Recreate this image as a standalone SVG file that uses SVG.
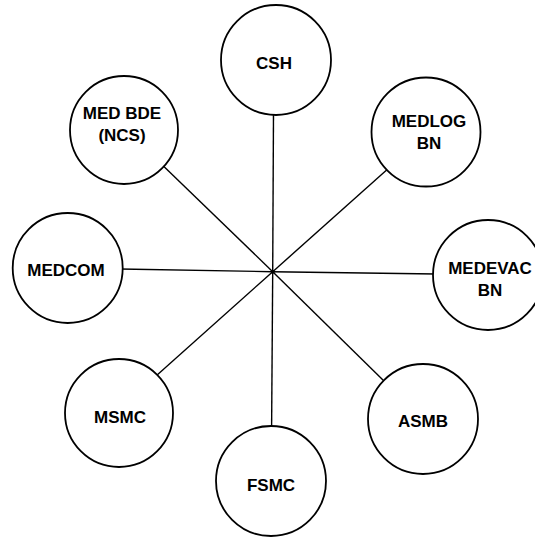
<svg xmlns="http://www.w3.org/2000/svg" width="535" height="538" viewBox="0 0 535 538">
  <style>
    .spoke { stroke: #000; stroke-width: 1.4; fill: none; }
    .node circle { fill: #fff; stroke: #000; stroke-width: 1.8; }
    .node text { font-family: "Liberation Sans", Arial, sans-serif; font-weight: bold; font-size: 17px; fill: #000; text-anchor: middle; dominant-baseline: central; }
  </style>
  <rect width="535" height="538" fill="#fff"/>

  <!-- spokes radiating from the hub -->
  <g id="connectors">
    <line class="spoke" x1="272.7" y1="271.7" x2="273.5" y2="112"/>
    <line class="spoke" x1="272.7" y1="271.7" x2="160" y2="162.7"/>
    <line class="spoke" x1="272.7" y1="271.7" x2="390" y2="167"/>
    <line class="spoke" x1="272.7" y1="271.7" x2="120" y2="269"/>
    <line class="spoke" x1="272.7" y1="271.7" x2="436" y2="274"/>
    <line class="spoke" x1="272.7" y1="271.7" x2="156" y2="376"/>
    <line class="spoke" x1="272.7" y1="271.7" x2="385" y2="382"/>
    <line class="spoke" x1="272.7" y1="271.7" x2="271.6" y2="429"/>
    <circle cx="272.7" cy="271.7" r="2" fill="#000"/>
  </g>

  <g id="csh" class="node">
    <circle cx="276" cy="60" r="55"/>
    <text x="274" y="63">CSH</text>
  </g>
  <g id="med-bde" class="node">
    <circle cx="124" cy="130" r="54"/>
    <text x="122" y="113">MED BDE</text>
    <text x="122" y="135">(NCS)</text>
  </g>
  <g id="medlog-bn" class="node">
    <circle cx="426" cy="132" r="54.5"/>
    <text x="429" y="121">MEDLOG</text>
    <text x="429" y="143">BN</text>
  </g>
  <g id="medcom" class="node">
    <circle cx="67.7" cy="268" r="55"/>
    <text x="66" y="270">MEDCOM</text>
  </g>
  <g id="medevac-bn" class="node">
    <circle cx="488" cy="275" r="55"/>
    <text x="490" y="268">MEDEVAC</text>
    <text x="490" y="290">BN</text>
  </g>
  <g id="msmc" class="node">
    <circle cx="119" cy="413" r="54"/>
    <text x="120" y="417">MSMC</text>
  </g>
  <g id="asmb" class="node">
    <circle cx="423" cy="419" r="55"/>
    <text x="423" y="421">ASMB</text>
  </g>
  <g id="fsmc" class="node">
    <circle cx="271" cy="481" r="55"/>
    <text x="271" y="485">FSMC</text>
  </g>
</svg>
